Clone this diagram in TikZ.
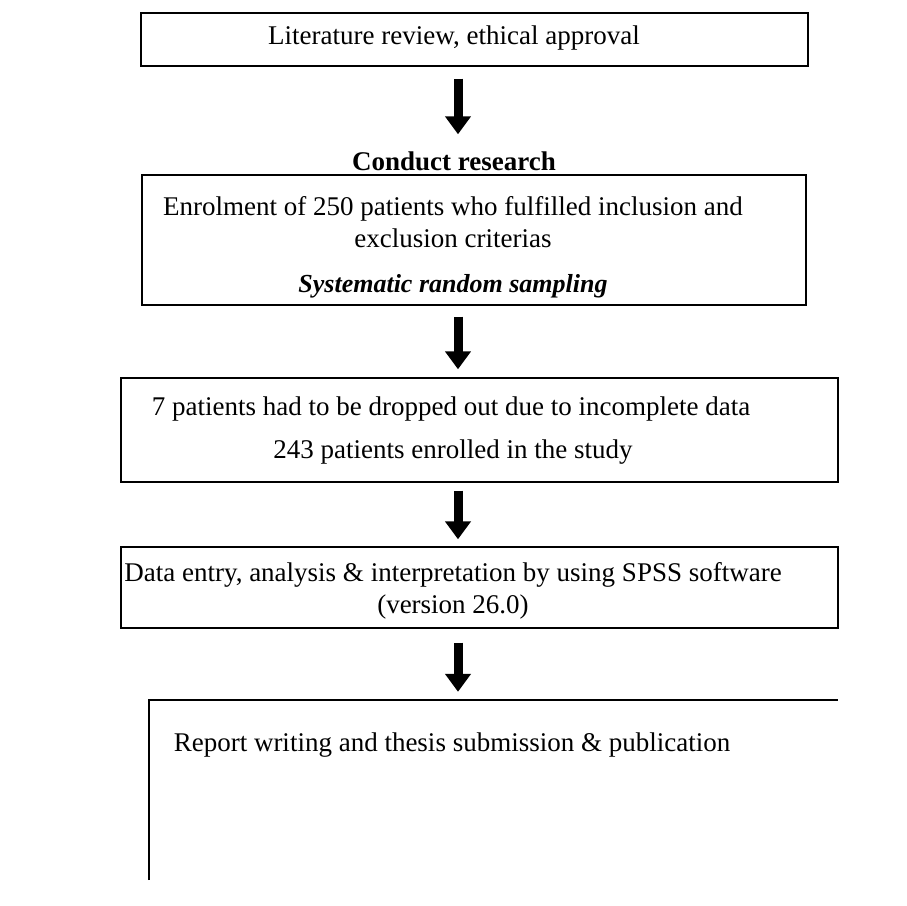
\documentclass[tikz,border=0pt]{standalone}
\usepackage{fontspec}
\setmainfont{Liberation Serif}
\usetikzlibrary{arrows.meta}

\tikzset{
  box/.style={draw, line width=1.4pt, inner sep=0pt},
  txt/.style={inner sep=0pt, font=\fontsize{27}{32}\selectfont, align=center},
  flow/.style={line width=9pt, -{Triangle[width=25pt,length=18pt]}}
}

\begin{document}
\begin{tikzpicture}[x=1pt, y=-1pt]
            \useasboundingbox (0,0) rectangle (906,906);
            \coordinate (ax) at (458,0);

            % boxes
            \node [box, minimum width=667pt, minimum height=53pt] (lit) at (474.5,39.5) {};
            \node [box, minimum width=664pt, minimum height=130pt] (enrol) at (474,240) {};
            \node [box, minimum width=717pt, minimum height=104pt] (drop) at (479.5,430) {};
            \node [box, minimum width=717pt, minimum height=81pt] (spss) at (479.5,587.5) {};
            \node [inner sep=0pt, minimum width=689pt, minimum height=180pt] (report) at (493.5,790) {};
            \draw [line width=1.4pt] (report.south west) -- (report.north west) -- (report.north east);

            % texts
            \node [txt] (littxt) at (454,38) {Literature review, ethical approval};
            \node [txt, font=\fontsize{27}{32}\selectfont\bfseries] (head) at (454,161) {Conduct research};
            \node [txt] (enroltxt) at (453,222) {Enrolment of 250 patients who fulfilled inclusion and\\exclusion criterias};
            \node [txt, font=\fontsize{26}{32}\selectfont\bfseries\itshape] (samp) at (453,286) {Systematic random sampling};
            \node [txt] (droptxt) at (451,409) {7 patients had to be dropped out due to incomplete data};
            \node [txt] (enrolled) at (453,452) {243 patients enrolled in the study};
            \node [txt] (spsstxt) at (453,591) {Data entry, analysis \& interpretation by using SPSS software\\(version 26.0)};
            \node [txt] (reptxt) at (452,745) {Report writing and thesis submission \& publication};

            % arrows
            \draw [flow, shorten <=12pt, shorten >=17pt] (lit.south -| ax) -- (head.north -| ax);
            \draw [flow, shorten <=11pt, shorten >=8pt] (enrol.south -| ax) -- (drop.north -| ax);
            \draw [flow, shorten <=8pt, shorten >=7pt] (drop.south -| ax) -- (spss.north -| ax);
            \draw [flow, shorten <=14pt, shorten >=8pt] (spss.south -| ax) -- (report.north -| ax);
\end{tikzpicture}
\end{document}
